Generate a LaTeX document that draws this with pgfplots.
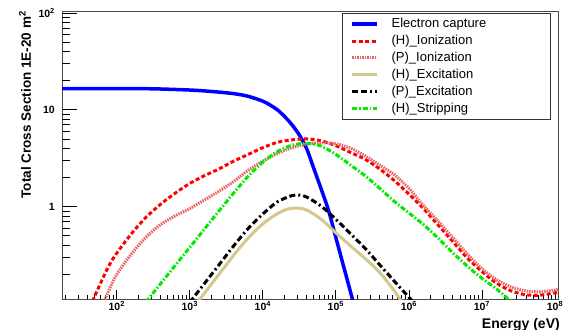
\documentclass[border=0pt]{standalone}
\usepackage{fontspec}
\setmainfont{Liberation Sans}
\usepackage{pgfplots}
\pgfplotsset{compat=1.18}
\definecolor{ecblue}{RGB}{0,0,255}
\definecolor{hion}{RGB}{255,0,0}
\definecolor{pion}{RGB}{232,100,100}
\definecolor{hexc}{RGB}{212,200,140}
\definecolor{hstr}{RGB}{0,235,0}
\begin{document}
\begin{tikzpicture}
\useasboundingbox (0,0) rectangle (563bp,330bp);
\begin{axis}[
  at={(62bp,31bp)}, anchor=south west,
  width=496bp, height=288bp, scale only axis,
  xmode=log, ymode=log,
  xmin=17.8, xmax=1.1e8, ymin=0.1113, ymax=105,
  axis line style={draw=black!70, line width=1bp},
  tick align=inside, xtick pos=bottom,
  xtick={1e2,1e3,1e4,1e5,1e6,1e7,1e8},
  xticklabels={\textbf{10\textsuperscript{2}},\textbf{10\textsuperscript{3}},\textbf{10\textsuperscript{4}},\textbf{10\textsuperscript{5}},\textbf{10\textsuperscript{6}},\textbf{10\textsuperscript{7}},\textbf{10\textsuperscript{8}}},
  minor xtick={20,30,40,50,60,70,80,90,200,300,400,500,600,700,800,900,2000,3000,4000,5000,6000,7000,8000,9000,2e4,3e4,4e4,5e4,6e4,7e4,8e4,9e4,2e5,3e5,4e5,5e5,6e5,7e5,8e5,9e5,2e6,3e6,4e6,5e6,6e6,7e6,8e6,9e6,2e7,3e7,4e7,5e7,6e7,7e7,8e7,9e7},
  ytick=\empty, minor ytick={},
  major tick length=9bp, minor tick length=4.5bp,
  tick style={black, line width=0.8bp},
  xticklabel style={font=\fontsize{10.5bp}{12bp}\selectfont, inner sep=2bp},
  xlabel={Energy (eV)},
  xlabel style={at={(axis description cs:1.004,-0.066)}, anchor=north east, inner sep=0pt, font=\fontsize{14bp}{16bp}\selectfont\bfseries},
  legend image code/.code={\draw[#1] (0bp,0bp) -- (25bp,0bp);},
  legend style={at={(axis description cs:0.564,0.994)}, anchor=north west,
    draw=black!80, line width=0.8bp, fill=white, inner xsep=8.3bp, inner ysep=4.5bp,
    row sep=3.9bp, font=\fontsize{13bp}{15bp}\selectfont,
    nodes={inner sep=0pt, text height=10bp, text depth=3bp},
    /tikz/every odd column/.append style={column sep=12.7bp}},
  legend cell align=left,
]
\addplot[ecblue, line width=3.5bp, smooth] coordinates {
(17.8,16.6)(100,16.6)(316,16.5)(1000,16.03)(1995,15.49)(3981,14.72)(6310,13.80)(10000,12.30)(12590,11.22)(15850,10.0)(19950,8.51)(25120,7.0)(31620,5.50)(39810,3.98)(50120,2.455)(63100,1.514)(79430,0.912)(100000,0.479)(125900,0.251)(158500,0.132)(199500,0.069)};
\addlegendentry{\makebox[150bp][l]{Electron capture}}
\addplot[hion, line width=3bp, dash pattern=on 4bp off 2.5bp, smooth] coordinates {
(39.8,0.0794)(50.1,0.120)(63.1,0.176)(79.4,0.251)(100,0.331)(158.5,0.525)(251.2,0.776)(398,1.059)(631,1.380)(1000,1.738)(1585,2.089)(2512,2.455)(3981,2.951)(6310,3.467)(10000,4.074)(15850,4.624)(25120,4.898)(39810,5.012)(63100,4.786)(100000,4.266)(158500,3.631)(251200,3.090)(398100,2.455)(631000,1.862)(1e6,1.349)(1.585e6,0.955)(2.512e6,0.646)(3.981e6,0.437)(6.31e6,0.295)(1e7,0.214)(1.585e7,0.162)(2.512e7,0.135)(3.981e7,0.123)(6.31e7,0.122)(1e8,0.129)(1.122e8,0.132)};
\addlegendentry{(H)\_Ionization}
\addplot[pion, line width=3bp, dash pattern=on 1.5bp off 1bp, smooth] coordinates {
(63.1,0.0933)(79.4,0.141)(100,0.1995)(158.5,0.324)(251.2,0.484)(398,0.653)(631,0.804)(1000,0.955)(1585,1.175)(2512,1.445)(3981,1.820)(6310,2.371)(10000,2.951)(15850,3.548)(25120,4.074)(39810,4.416)(63100,4.571)(100000,4.467)(158500,4.027)(251200,3.350)(398100,2.692)(631000,2.138)(1e6,1.549)(1.585e6,1.023)(2.512e6,0.708)(3.981e6,0.479)(6.31e6,0.324)(1e7,0.229)(1.585e7,0.176)(2.512e7,0.148)(3.981e7,0.135)(6.31e7,0.132)(1e8,0.138)(1.122e8,0.141)};
\addlegendentry{(P)\_Ionization}
\addplot[hexc, line width=3bp, smooth] coordinates {
(1259,0.102)(1995,0.160)(3162,0.251)(5012,0.389)(7943,0.569)(12590,0.759)(19950,0.923)(28180,0.966)(39810,0.923)(63100,0.741)(100000,0.537)(158500,0.394)(251200,0.292)(398100,0.209)(631000,0.135)(794300,0.105)};
\addlegendentry{(H)\_Excitation}
\addplot[black, line width=3bp, dash pattern=on 6bp off 3bp on 6bp off 3bp on 2bp off 3bp, smooth] coordinates {
(1000,0.1028)(1585,0.1607)(2512,0.251)(3981,0.393)(6310,0.596)(10000,0.841)(15850,1.122)(25120,1.303)(31620,1.318)(39810,1.259)(63100,1.012)(100000,0.741)(158500,0.525)(251200,0.372)(398100,0.251)(631000,0.170)(1e6,0.116)(1.259e6,0.0955)};
\addlegendentry{(P)\_Excitation}
\addplot[hstr, line width=3bp, dash pattern=on 5bp off 2bp on 1.5bp off 2bp, smooth] coordinates {
(251.2,0.1038)(398,0.160)(631,0.247)(1000,0.380)(1585,0.586)(2512,0.904)(3981,1.380)(6310,2.065)(10000,2.884)(15850,3.715)(25120,4.315)(39810,4.519)(63100,4.217)(100000,3.467)(158500,2.692)(251200,2.089)(398100,1.549)(631000,1.135)(1e6,0.861)(1.585e6,0.653)(2.512e6,0.473)(3.981e6,0.335)(6.31e6,0.243)(1e7,0.182)(1.585e7,0.141)(2.512e7,0.1047)};
\addlegendentry{(H)\_Stripping}
\end{axis}
\begin{axis}[
  at={(62bp,31bp)}, anchor=south west,
  width=496bp, height=288bp, scale only axis,
  xmode=log, ymode=log,
  xmin=17.8, xmax=1.1e8, ymin=0.1113, ymax=105,
  axis line style={draw=none},
  xtick=\empty, minor xtick={},
  tick align=inside, ytick pos=left,
  ytick={1,10,100},
  yticklabels={\textbf{1},\textbf{10},\textbf{10\textsuperscript{2}}},
  minor ytick={0.2,0.3,0.4,0.5,0.6,0.7,0.8,0.9,2,3,4,5,6,7,8,9,20,30,40,50,60,70,80,90},
  major tick length=15bp, minor tick length=8bp,
  tick style={black, line width=0.8bp},
  yticklabel style={font=\fontsize{10.5bp}{12bp}\selectfont, inner sep=0pt, xshift=-7bp},
  ylabel={Total Cross Section 1E-20 m\textsuperscript{2}},
  ylabel style={at={(axis description cs:-0.0746,1)}, anchor=east, inner sep=0pt, font=\fontsize{13.5bp}{15bp}\selectfont\bfseries},
]
\end{axis}
\end{tikzpicture}
\end{document}
